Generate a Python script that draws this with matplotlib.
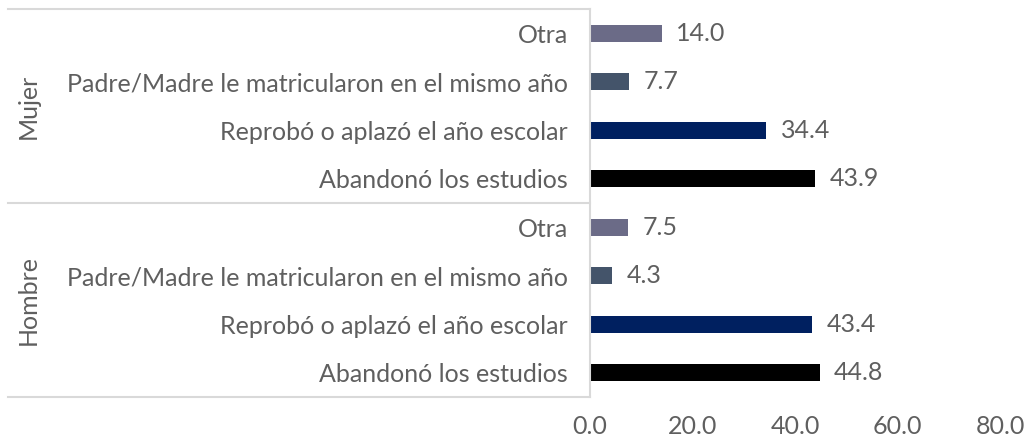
import matplotlib
matplotlib.use("Agg")
import matplotlib.pyplot as plt
from matplotlib.lines import Line2D
from matplotlib.transforms import blended_transform_factory

plt.rcParams['font.family'] = ['Lato', 'DejaVu Sans']

# data, top to bottom
groups = ["Mujer", "Hombre"]
categories = ["Otra",
              "Padre/Madre le matricularon en el mismo año",
              "Reprobó o aplazó el año escolar",
              "Abandonó los estudios"]
mujer = [14.0, 7.7, 34.4, 43.9]
hombre = [7.5, 4.3, 43.4, 44.8]
colors = ["#6b6b87", "#44546a", "#002060", "#000000"]
xticks = [0, 20, 40, 60, 80]

text_col = "#5f5f5f"
line_col = "#d9d9d9"
fs = 18

fig = plt.figure(figsize=(10.29, 4.4), dpi=100)
# axes from x=590..1000 px, y=9..397 px
ax = fig.add_axes([590 / 1029, 1 - 397 / 440, 410 / 1029, 388 / 440])

labels = categories + categories
values = mujer + hombre
cols = colors + colors
ypos = list(range(len(values)))

ax.barh(ypos, values, height=0.36, color=cols)
ax.set_ylim(len(values) - 0.5, -0.5)
ax.set_xlim(0, 80)
ax.set_yticks(ypos)
ax.set_yticklabels(labels, fontsize=fs, color=text_col)
ax.set_xticks(xticks)
ax.set_xticklabels(["%.1f" % t for t in xticks], fontsize=fs, color=text_col)
ax.tick_params(axis='both', length=0)
ax.tick_params(axis='y', pad=16)
ax.tick_params(axis='x', pad=13)

for s in ["top", "right", "bottom"]:
    ax.spines[s].set_visible(False)
ax.spines["left"].set_color(line_col)
ax.spines["left"].set_linewidth(1.5)

for y, v in zip(ypos, values):
    ax.text(v + 2.8, y, "%.1f" % v, va='center', ha='left', fontsize=fs,
            color=text_col)

# group separators and labels
tr = blended_transform_factory(ax.transAxes, ax.transData)
x0 = -582 / 410
for yb in [-0.5, 3.5, 7.5]:
    ax.add_line(Line2D([x0, 0], [yb, yb], transform=tr, color=line_col,
                       lw=1.5, clip_on=False))
for i, g in enumerate(groups):
    ax.text(-562 / 410, i * 4 + 1.5, g, transform=tr, rotation=90,
            va='center', ha='center', fontsize=fs, color=text_col)

fig.savefig("out.png", dpi=100)
